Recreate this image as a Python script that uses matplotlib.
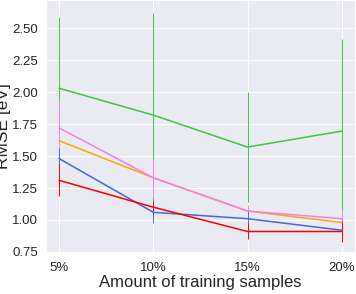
import matplotlib
matplotlib.use("Agg")
import matplotlib.pyplot as plt
import seaborn as sns

sns.set_style("darkgrid")
plt.rcParams['font.family'] = ['Liberation Sans', 'DejaVu Sans']

# datos
etiquetas = ["5%", "10%", "15%", "20%"]
x = [0, 1, 2, 3]

verde = [2.03, 1.82, 1.57, 1.695]
verde_err = [0.56, 0.80, 0.43, 0.72]
naranja = [1.62, 1.33, 1.07, 0.98]
naranja_err = [0.10, 0.10, 0.05, 0.05]
rosa = [1.72, 1.33, 1.07, 1.01]
rosa_err = [0.22, 0.15, 0.03, 0.07]
azul = [1.48, 1.06, 1.01, 0.92]
azul_err = [0.08, 0.08, 0.07, 0.02]
rojo = [1.31, 1.10, 0.91, 0.91]
rojo_err = [0.125, 0.05, 0.06, 0.08]

series = [(verde, verde_err, "#3cc83c"),
          (naranja, naranja_err, "orange"),
          (rosa, rosa_err, "violet"),
          (azul, azul_err, "royalblue"),
          (rojo, rojo_err, "red")]

fig = plt.figure(figsize=(3.56, 2.94), dpi=100)
ax = fig.add_axes([0.129, 0.143, 0.868, 0.857])

for vals, err, col in series:
    ax.errorbar(x, vals, yerr=err, color=col, lw=1.1, elinewidth=0.7)

ax.set_xticks(x)
ax.set_xticklabels(etiquetas, fontsize=9.5)
ax.set_xlim(-0.14, 3.14)
ax.set_ylim(0.75, 2.72)
ax.set_yticks([0.75, 1.0, 1.25, 1.5, 1.75, 2.0, 2.25, 2.5])
ax.tick_params(axis="y", labelsize=9.5, pad=2)
ax.set_xlabel("Amount of training samples", fontsize=12, labelpad=1)
ax.set_ylabel("RMSE [eV]", fontsize=12.5)
ax.yaxis.set_label_coords(-0.112, 0.5)

fig.savefig("out.png")
